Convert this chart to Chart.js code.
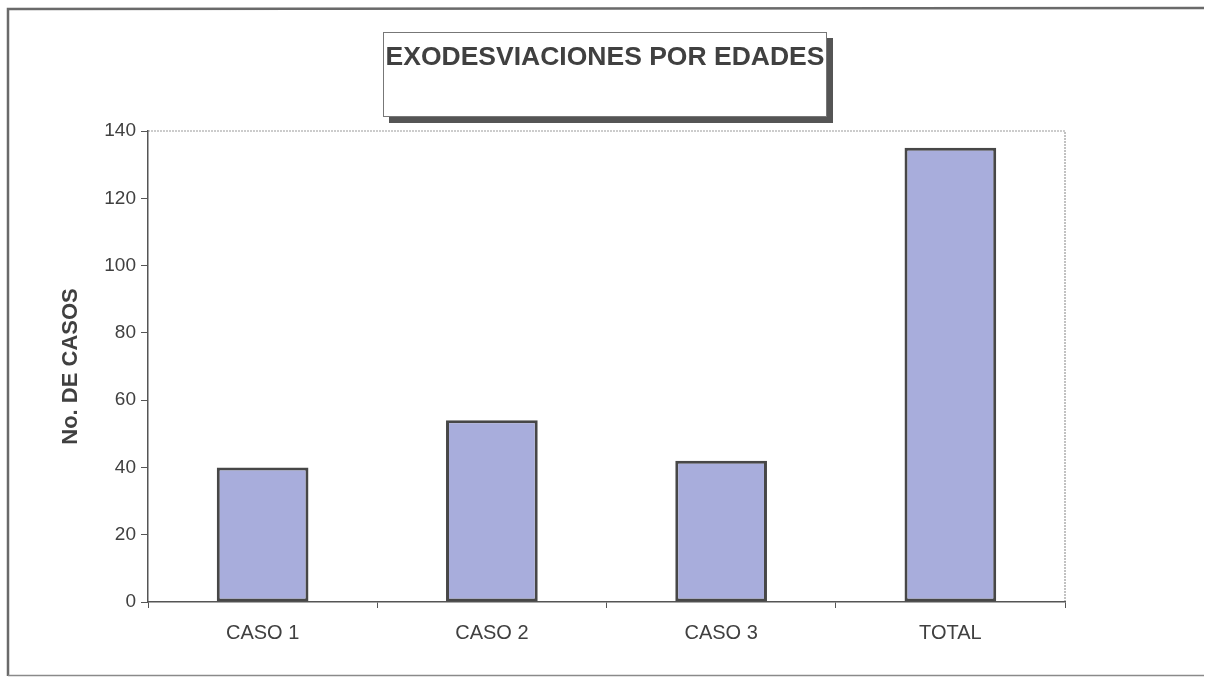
<!DOCTYPE html>
<html>
<head>
<meta charset="utf-8">
<script src="https://cdn.jsdelivr.net/npm/chart.js@4"></script>
<style>
  html, body { margin: 0; padding: 0; background: #fff; }
  #wrap { width: 1205px; height: 677px; position: relative; }
</style>
</head>
<body>
<div id="wrap"><canvas id="chart"></canvas></div>
<script>
/* ================================================
   DATA
================================================ */
const categories = ['CASO 1', 'CASO 2', 'CASO 3', 'TOTAL'];
const casos      = [40, 54, 42, 135];
const chartTitle = 'EXODESVIACIONES POR EDADES';
const yTitle     = 'No. DE CASOS';

const INK  = '#404040';
const FONT = 'Arial, "Liberation Sans", sans-serif';

/* ================================================
   FRAME + TITLE BOX + PLOT BORDER
================================================ */
const framePlugin = {
  id: 'frame',
  beforeDraw(chart) {
    const { ctx, chartArea: a } = chart;
    ctx.save();
    ctx.fillStyle = '#fff';
    ctx.fillRect(0, 0, chart.width, chart.height);

    /* outer border */
    ctx.strokeStyle = '#6a6a6a';
    ctx.lineWidth = 2.5;
    ctx.beginPath();
    ctx.moveTo(8, 676); ctx.lineTo(8, 9); ctx.lineTo(1204, 8);
    ctx.stroke();
    ctx.lineWidth = 1.5;
    ctx.strokeStyle = '#8a8a8a';
    ctx.beginPath();
    ctx.moveTo(8, 675.5); ctx.lineTo(1204, 675.5);
    ctx.stroke();

    /* plot area top + right border (dotted) */
    ctx.strokeStyle = '#9a9a9a';
    ctx.lineWidth = 1.2;
    ctx.setLineDash([2, 1]);
    ctx.beginPath();
    ctx.moveTo(a.left, a.top); ctx.lineTo(a.right, a.top); ctx.lineTo(a.right, a.bottom);
    ctx.stroke();
    ctx.setLineDash([]);
    ctx.restore();
  },
  afterDraw(chart) {
    const { ctx } = chart;
    const bx = 383, by = 32, bw = 444, bh = 85;
    ctx.save();
    /* shadow */
    ctx.fillStyle = '#555';
    ctx.fillRect(bx + 6, by + 6, bw, bh);
    /* box */
    ctx.fillStyle = '#fff';
    ctx.fillRect(bx, by, bw, bh);
    ctx.strokeStyle = '#777';
    ctx.lineWidth = 1;
    ctx.strokeRect(bx + 0.5, by + 0.5, bw - 1, bh - 1);
    /* title text */
    ctx.fillStyle = INK;
    ctx.font = 'bold 26.5px ' + FONT;
    ctx.textAlign = 'center';
    ctx.textBaseline = 'middle';
    ctx.fillText(chartTitle, bx + bw / 2, 58);
    ctx.restore();
  }
};

/* ================================================
   CHART
================================================ */
new Chart(document.getElementById('chart'), {
  type: 'bar',
  data: {
    labels: categories,
    datasets: [{
      label: yTitle,
      data: casos,
      backgroundColor: '#a8addc',
      borderColor: '#474747',
      borderWidth: 3,
      borderSkipped: false,
      barPercentage: 0.4,
      categoryPercentage: 1,
    }],
  },
  options: {
    responsive: true,
    maintainAspectRatio: false,
    animation: false,
    layout: { padding: { left: 20, right: 140, top: 131, bottom: 15 } },
    plugins: {
      legend:  { display: false },
      tooltip: { enabled: false },
      title:   { display: false },
    },
    scales: {
      x: {
        grid: {
          offset: true,
          drawOnChartArea: false,
          drawTicks: true,
          tickLength: 6,
          color: '#555',
          lineWidth: 1,
        },
        border: { color: '#555', width: 1.5, dash: [2, 1] },
        ticks: { color: INK, padding: 13, font: { family: FONT, size: 20 } },
        afterFit: s => { s.height = 60; },
      },
      y: {
        min: 0,
        max: 140,
        ticks: { stepSize: 20, color: INK, padding: 5, font: { family: FONT, size: 19 } },
        grid: {
          drawOnChartArea: false,
          drawTicks: true,
          tickLength: 7,
          color: '#555',
        },
        border: { color: '#555', width: 1.5 },
        title: {
          display: true,
          text: yTitle,
          color: INK,
          padding: { top: 38, bottom: 0 },
          font: { family: FONT, size: 22, weight: 'bold' },
        },
        afterFit: s => { s.width = 128; },
      },
    },
  },
  plugins: [framePlugin],
});
</script>
</body>
</html>
